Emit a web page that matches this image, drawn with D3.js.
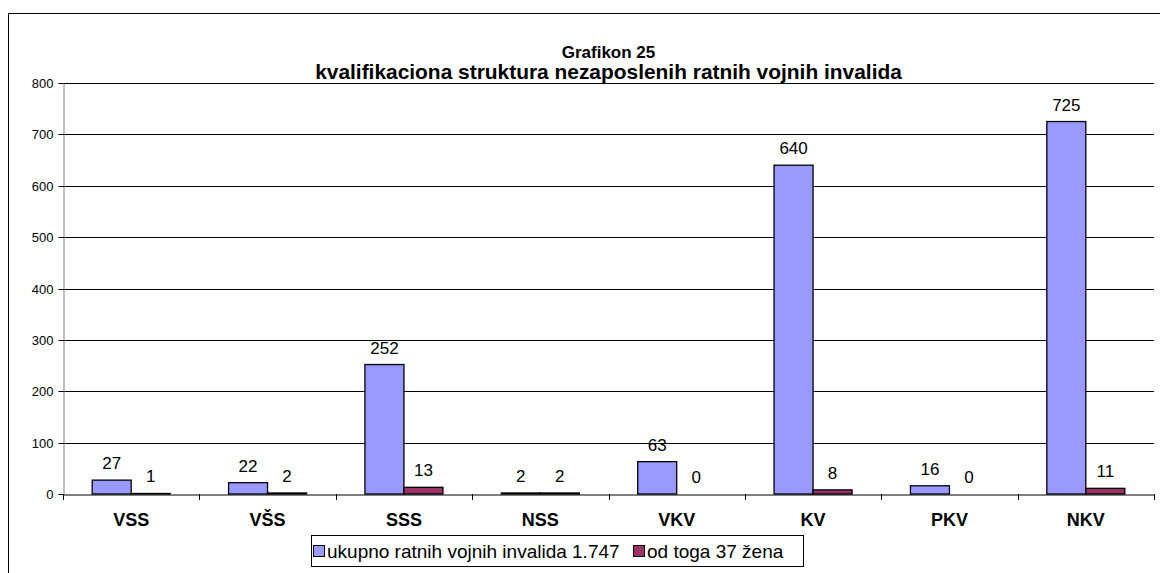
<!DOCTYPE html>
<html><head><meta charset="utf-8">
<script src="https://cdn.jsdelivr.net/npm/d3@7"></script>
<style>body{margin:0;background:#fff}svg{display:block;font-family:"Liberation Sans",Arial,sans-serif}</style>
</head><body><svg id="c" width="1160" height="573"></svg>
<script>
const categories = ["VSS","VŠS","SSS","NSS","VKV","KV","PKV","NKV"];
const totalValues = [27,22,252,2,63,640,16,725];
const womenValues = [1,2,13,2,0,8,0,11];
const seriesNames = ["ukupno ratnih vojnih invalida 1.747","od toga 37 žena"];
const yTicks = [0,100,200,300,400,500,600,700,800];
const titleLines = ["Grafikon 25","kvalifikaciona struktura nezaposlenih ratnih vojnih invalida"];
const colors = ["#9999FF","#993366"];
const FF = "'Liberation Sans',Arial,sans-serif";

const svg = d3.select("#c");
const L = 63, R = 1154, T = 83, B = 494;
svg.append("rect").attr("x",8.5).attr("y",13.5).attr("width",1200).attr("height",600)
  .attr("fill","none").attr("stroke","#000").attr("stroke-width",1);

const x = d3.scaleBand().domain(categories).range([L,R]).paddingInner(0).paddingOuter(0);
const y = d3.scaleLinear().domain([0,800]).range([B,T]);
const barW = 39;
const inner = d3.scaleBand().domain([0,1]).range([0,2*barW]);

// gridlines
svg.append("g").selectAll("line").data(yTicks.filter(d=>d>0)).join("line")
  .attr("x1",L).attr("x2",R).attr("y1",d=>Math.round(y(d))+0.5).attr("y2",d=>Math.round(y(d))+0.5)
  .attr("stroke","#000").attr("stroke-width",1);

// y axis
const ya = svg.append("g").attr("transform",`translate(${L+0.5},0)`)
  .call(d3.axisLeft(y).tickValues(yTicks).tickSize(5).tickPadding(5).tickFormat(d3.format("d")));
ya.select(".domain").attr("stroke","#808080");
ya.selectAll(".tick line").attr("stroke","#000");
ya.selectAll(".tick text").attr("font-size",13).attr("fill","#000").attr("font-family",FF);
ya.selectAll(".tick").attr("transform",d=>`translate(0,${Math.round(y(d))+0.5})`);

// bars
const groups = svg.append("g").selectAll("g").data(categories).join("g")
  .attr("transform",d=>`translate(${x(d)+(x.bandwidth()-2*barW)/2},0)`);
[totalValues,womenValues].forEach((vals,si)=>{
  groups.append("rect")
    .attr("x",inner(si)).attr("width",barW)
    .attr("y",(d,i)=>y(vals[i])).attr("height",(d,i)=>B-y(vals[i]))
    .attr("fill",colors[si]).attr("stroke","#000").attr("stroke-width",1.3);
  groups.append("text")
    .attr("x",inner(si)+barW/2).attr("y",(d,i)=>y(vals[i])-11)
    .attr("text-anchor","middle").attr("font-size",17).attr("fill","#000")
    .text((d,i)=>vals[i]);
});

// x axis
const xa = svg.append("g").attr("transform",`translate(0,${B+0.5})`)
  .call(d3.axisBottom(x).tickSize(0).tickPadding(19));
xa.select(".domain").attr("stroke","#000");
xa.selectAll(".tick text").attr("font-size",18).attr("font-weight","bold").attr("fill","#000")
  .attr("font-family",FF);
svg.append("g").selectAll("line").data(categories.map((c,i)=>i).concat([categories.length])).join("line")
  .attr("x1",i=>Math.round(L+i*x.bandwidth())+0.5).attr("x2",i=>Math.round(L+i*x.bandwidth())+0.5)
  .attr("y1",B).attr("y2",B+6).attr("stroke","#000");

// title
svg.append("text").attr("x",(L+R)/2).attr("y",58).attr("text-anchor","middle")
  .attr("font-size",17).attr("font-weight","bold").attr("fill","#000").text(titleLines[0]);
const t2 = svg.append("text").attr("x",(L+R)/2).attr("y",79).attr("text-anchor","middle")
  .attr("font-size",18).attr("font-weight","bold").attr("fill","#000").text(titleLines[1]);
const w2 = t2.node().getComputedTextLength();
if (w2 > 0) t2.attr("font-size", 18*587/w2);

// legend
const lg = svg.append("g");
lg.append("rect").attr("x",311.5).attr("y",535.5).attr("width",492).attr("height",31)
  .attr("fill","#fff").attr("stroke","#000");
const lx = [313, 633];
seriesNames.forEach((n,i)=>{
  lg.append("rect").attr("x",lx[i]+0.5).attr("y",545.5).attr("width",11).attr("height",11)
    .attr("fill",colors[i]).attr("stroke","#000");
  lg.append("text").attr("x",lx[i]+14).attr("y",558).attr("font-size",19).attr("fill","#000").text(n);
});
</script></body></html>
